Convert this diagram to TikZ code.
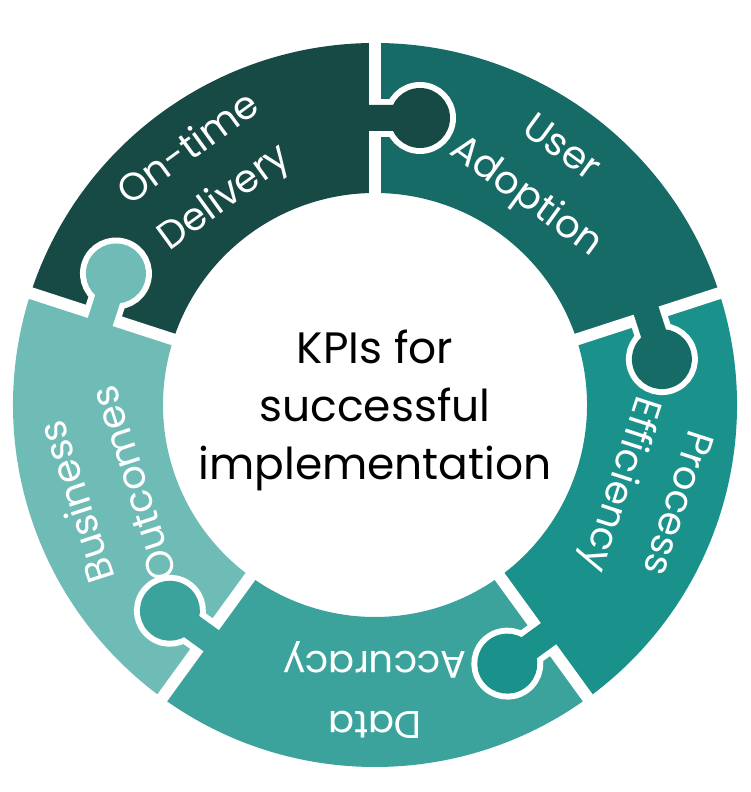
\documentclass[tikz,border=0pt]{standalone}
\usepackage{fontspec}
\setmainfont{Poppins}
\definecolor{ontime}{HTML}{174A45}
\definecolor{adoption}{HTML}{166B67}
\definecolor{process}{HTML}{1A918A}
\definecolor{accuracy}{HTML}{3BA39C}
\definecolor{outcomes}{HTML}{6FBBB5}
\tikzset{
  gap/.style={white,line width=3.4pt},
  label/.style={white,align=center,font=\fontsize{11}{15}\selectfont},
}
\begin{document}
\begin{tikzpicture}
\useasboundingbox (0,0) rectangle (7.5,7.92);
\begin{scope}[shift={(3.75,3.87)}]
%pieces
\fill[ontime] (90:3.62) arc[start angle=90,end angle=162,radius=3.62] -- (162:2.12) arc[start angle=162,end angle=90,radius=2.12] -- cycle;
\fill[adoption] (18:3.62) arc[start angle=18,end angle=90,radius=3.62] -- (90:2.12) arc[start angle=90,end angle=18,radius=2.12] -- cycle;
\fill[process] (-54:3.62) arc[start angle=-54,end angle=18,radius=3.62] -- (18:2.12) arc[start angle=18,end angle=-54,radius=2.12] -- cycle;
\fill[accuracy] (-126:3.62) arc[start angle=-126,end angle=-54,radius=3.62] -- (-54:2.12) arc[start angle=-54,end angle=-126,radius=2.12] -- cycle;
\fill[outcomes] (162:3.62) arc[start angle=162,end angle=234,radius=3.62] -- (234:2.12) arc[start angle=234,end angle=162,radius=2.12] -- cycle;
%gaps
\draw[gap] (90:2.0) -- (90:3.8);
\draw[gap] (18:2.0) -- (18:3.8);
\draw[gap] (-54:2.0) -- (-54:3.8);
\draw[gap] (-126:2.0) -- (-126:3.8);
\draw[gap] (162:2.0) -- (162:3.8);
%knobs
\begin{scope}[rotate=90]
\draw[gap] (2.87,-0.45) circle (0.3) (2.74,0) -- (2.74,-0.25) (3.0,0) -- (3.0,-0.25);
\fill[ontime] (2.87,-0.45) circle (0.3) (2.74,0.07) rectangle (3.0,-0.35);
\end{scope}
\begin{scope}[rotate=18]
\draw[gap] (2.87,-0.45) circle (0.3) (2.74,0) -- (2.74,-0.25) (3.0,0) -- (3.0,-0.25);
\fill[adoption] (2.87,-0.45) circle (0.3) (2.74,0.07) rectangle (3.0,-0.35);
\end{scope}
\begin{scope}[rotate=-54]
\draw[gap] (2.87,-0.45) circle (0.3) (2.74,0) -- (2.74,-0.25) (3.0,0) -- (3.0,-0.25);
\fill[process] (2.87,-0.45) circle (0.3) (2.74,0.07) rectangle (3.0,-0.35);
\end{scope}
\begin{scope}[rotate=-126]
\draw[gap] (2.87,-0.45) circle (0.3) (2.74,0) -- (2.74,-0.25) (3.0,0) -- (3.0,-0.25);
\fill[accuracy] (2.87,-0.45) circle (0.3) (2.74,0.07) rectangle (3.0,-0.35);
\end{scope}
\begin{scope}[rotate=162]
\draw[gap] (2.87,-0.45) circle (0.3) (2.74,0) -- (2.74,-0.25) (3.0,0) -- (3.0,-0.25);
\fill[outcomes] (2.87,-0.45) circle (0.3) (2.74,0.07) rectangle (3.0,-0.35);
\end{scope}
%labels
\node[label,rotate=36] (ontimelbl) at (126:2.85) {On-time\\[2pt]Delivery};
\node[label,rotate=-36] (adoptionlbl) at (54:2.85) {User\\[2pt]Adoption};
\node[label,rotate=-108] (processlbl) at (-18:2.85) {Process\\[2pt]Efficiency};
\node[label,rotate=-180] (accuracylbl) at (-90:2.85) {Data\\[2pt]Accuracy};
\node[label,rotate=108] (outcomeslbl) at (198:2.85) {Business\\[2pt]Outcomes};
\node[align=center,font=\fontsize{12.5}{15.5}\selectfont] (kpis) at (0,-0.05) {KPIs for\\[1pt]successful\\[1pt]implementation};
\end{scope}
\end{tikzpicture}
\end{document}
